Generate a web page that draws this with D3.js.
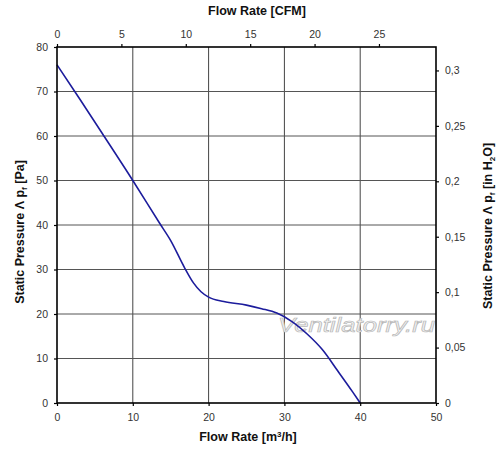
<!DOCTYPE html>
<html>
<head>
<meta charset="utf-8">
<script src="https://cdn.jsdelivr.net/npm/d3@7"></script>
<style>
  body { margin: 0; background: #fff; }
  text { font-family: "Liberation Sans", Arial, sans-serif; }
</style>
</head>
<body>
<script>
// flow rate in m3/h and static pressure in Pa
var flow = [0, 3, 6, 10, 13.5, 15, 16.8, 18, 19, 20, 22, 25, 27, 29, 31, 33, 35, 37, 39, 40];
var pressure = [76, 68.3, 60.5, 50, 40.5, 36.5, 30.5, 27, 25, 23.8, 22.8, 22, 21.2, 20.2, 18.3, 15.5, 12, 7.3, 2.5, 0];

var bottomTicks = [0, 10, 20, 30, 40, 50];
var leftTicks = [0, 10, 20, 30, 40, 50, 60, 70, 80];
var topTicks = [0, 5, 10, 15, 20, 25];
var rightTicks = [0, 0.05, 0.1, 0.15, 0.2, 0.25, 0.3];

var width = 500, height = 450;
var plotLeft = 57, plotRight = 436, plotTop = 47, plotBottom = 403;

var svg = d3.select('body').append('svg')
  .attr('width', width)
  .attr('height', height);

var x = d3.scaleLinear().domain([0, 50]).range([plotLeft, plotRight]);
var y = d3.scaleLinear().domain([0, 80]).range([plotBottom, plotTop]);
// 1 CFM = 1.699 m3/h, 1 inH2O = 249.1 Pa
var xCfm = d3.scaleLinear().domain([0, 50 / 1.699]).range([plotLeft, plotRight]);
var yIn = d3.scaleLinear().domain([0, 80 / 249.1]).range([plotBottom, plotTop]);

// grid
svg.append('g').selectAll('line').data(bottomTicks.slice(1, -1))
  .enter().append('line')
  .attr('x1', function(d) { return x(d); })
  .attr('x2', function(d) { return x(d); })
  .attr('y1', plotTop).attr('y2', plotBottom)
  .attr('stroke', '#444').attr('stroke-width', 1);
svg.append('g').selectAll('line').data(leftTicks.slice(1, -1))
  .enter().append('line')
  .attr('y1', function(d) { return y(d); })
  .attr('y2', function(d) { return y(d); })
  .attr('x1', plotLeft).attr('x2', plotRight)
  .attr('stroke', '#555').attr('stroke-width', 1);

// watermark
svg.append('text')
  .attr('x', 278).attr('y', 332)
  .attr('textLength', 157)
  .attr('lengthAdjust', 'spacingAndGlyphs')
  .attr('font-size', 21)
  .attr('font-style', 'italic')
  .attr('fill', '#f2f2f2')
  .attr('stroke', '#b8b8b8')
  .attr('stroke-width', 0.7)
  .text('Ventilatorry.ru');

// curve
var line = d3.line()
  .x(function(d, i) { return x(flow[i]); })
  .y(function(d) { return y(d); })
  .curve(d3.curveMonotoneX);
svg.append('path')
  .datum(pressure)
  .attr('d', line)
  .attr('fill', 'none')
  .attr('stroke', '#1c1c9c')
  .attr('stroke-width', 1.6);

// frame
svg.append('rect')
  .attr('x', plotLeft).attr('y', plotTop)
  .attr('width', plotRight - plotLeft).attr('height', plotBottom - plotTop)
  .attr('fill', 'none').attr('stroke', '#000').attr('stroke-width', 1.6);

function styleAxis(g) {
  g.select('.domain').remove();
  g.selectAll('.tick line').attr('stroke', '#000').attr('stroke-width', 1.2);
  g.selectAll('.tick text').attr('fill', '#333').attr('font-size', 10.5)
    .attr('font-family', '"Liberation Sans", Arial, sans-serif');
}
var comma = function(d) { return String(d).replace('.', ','); };

svg.append('g').attr('transform', 'translate(0,' + plotBottom + ')')
  .call(d3.axisBottom(x).tickValues(bottomTicks).tickSize(3).tickPadding(8))
  .call(styleAxis);
svg.append('g').attr('transform', 'translate(' + plotLeft + ',0)')
  .call(d3.axisLeft(y).tickValues(leftTicks).tickSize(3).tickPadding(6))
  .call(styleAxis);
svg.append('g').attr('transform', 'translate(0,' + plotTop + ')')
  .call(d3.axisTop(xCfm).tickValues(topTicks).tickSize(3).tickPadding(6))
  .call(styleAxis);
svg.append('g').attr('transform', 'translate(' + plotRight + ',0)')
  .call(d3.axisRight(yIn).tickValues(rightTicks).tickSize(3).tickPadding(6).tickFormat(comma))
  .call(styleAxis);

// titles
svg.append('text').attr('x', 257).attr('y', 15)
  .attr('text-anchor', 'middle').attr('font-weight', 'bold').attr('font-size', 12.5)
  .attr('fill', '#111')
  .text('Flow Rate [CFM]');

var bt = svg.append('text').attr('x', 248).attr('y', 441)
  .attr('text-anchor', 'middle').attr('font-weight', 'bold').attr('font-size', 12.5)
  .attr('fill', '#111');
bt.append('tspan').text('Flow Rate [m');
bt.append('tspan').attr('font-size', 8).attr('dy', -4).text('3');
bt.append('tspan').attr('dy', 4).text('/h]');

var lt = svg.append('text')
  .attr('transform', 'translate(24,232) rotate(-90)')
  .attr('text-anchor', 'middle').attr('font-weight', 'bold').attr('font-size', 12.5)
  .attr('fill', '#111');
lt.append('tspan').text('Static Pressure Λ p');
lt.append('tspan').attr('font-size', 8).attr('dy', 3).text('f');
lt.append('tspan').attr('dy', -3).text(' [Pa]');

var rt = svg.append('text')
  .attr('transform', 'translate(492,226) rotate(-90)')
  .attr('text-anchor', 'middle').attr('font-weight', 'bold').attr('font-size', 12.5)
  .attr('fill', '#111');
rt.append('tspan').text('Static Pressure Λ p');
rt.append('tspan').attr('font-size', 8).attr('dy', 3).text('f');
rt.append('tspan').attr('dy', -3).text(' [in H');
rt.append('tspan').attr('font-size', 8).attr('dy', 3).text('2');
rt.append('tspan').attr('dy', -3).text('O]');
</script>
</body>
</html>
